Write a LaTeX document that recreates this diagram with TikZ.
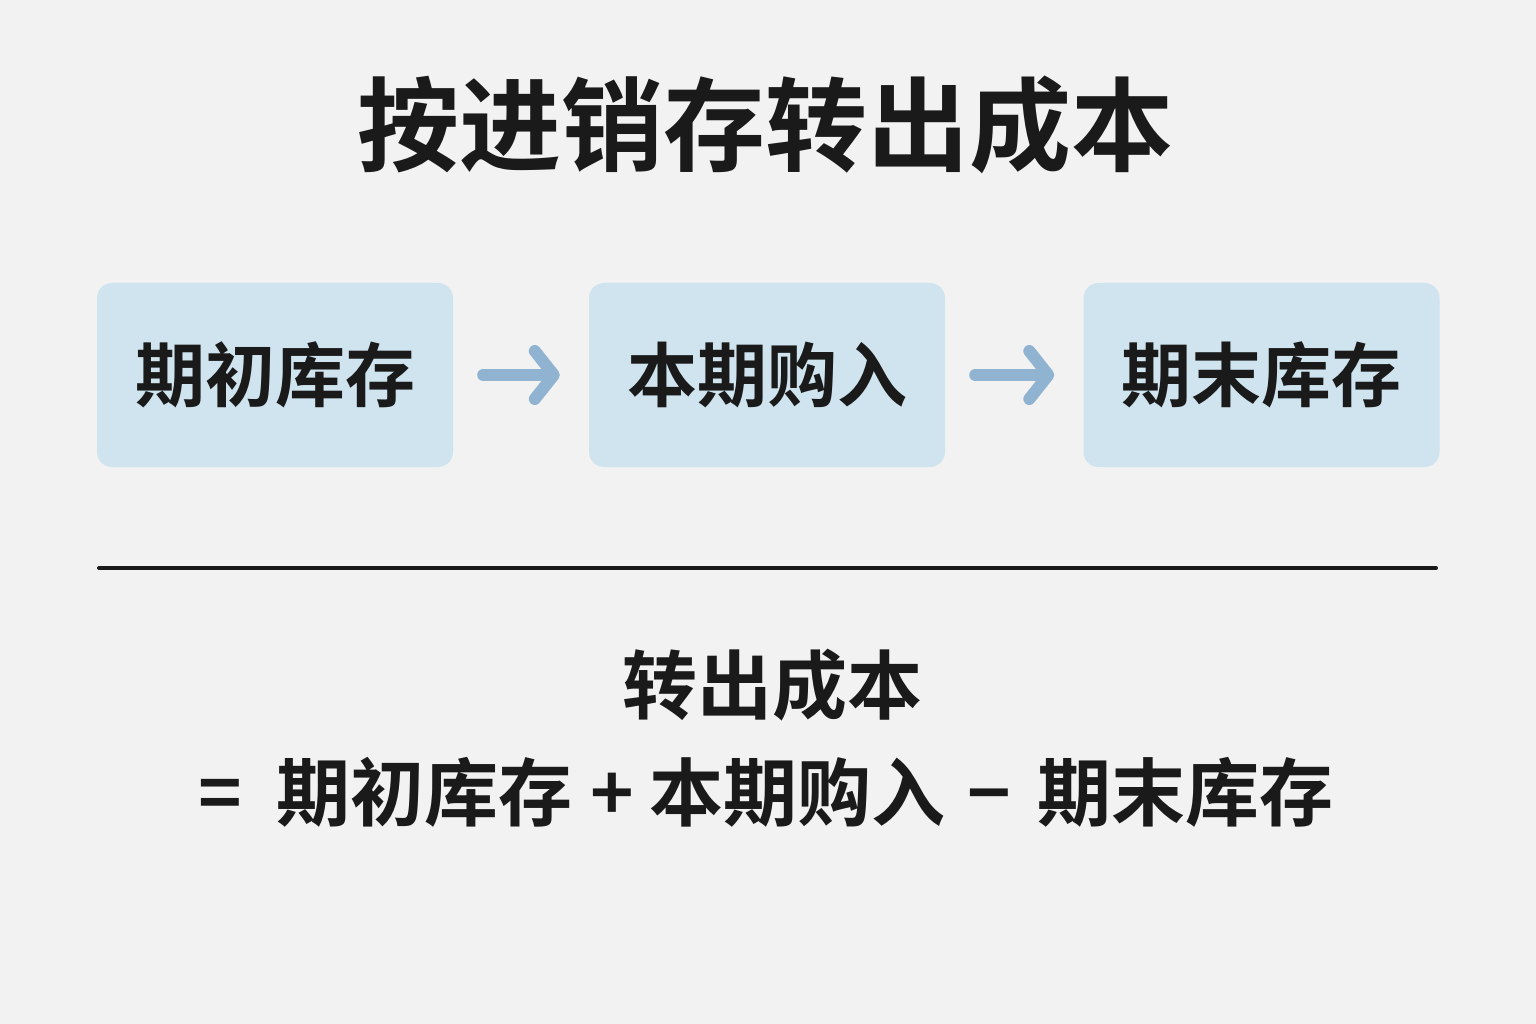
\documentclass[tikz,border=0pt]{standalone}
\usepackage{fontspec}
\setmainfont{Noto Sans CJK SC}[BoldFont={Noto Sans CJK SC Bold}]
\usetikzlibrary{arrows.meta}
\definecolor{bg}{HTML}{F2F2F2}
\definecolor{boxfill}{HTML}{CFE4EF}
\definecolor{arrowc}{HTML}{8FB3D1}
\definecolor{ink}{HTML}{1A1A1A}
\tikzset{
  stepbox/.style={fill=boxfill, rounded corners=15pt, minimum width=356pt, minimum height=184pt,
    inner sep=0pt, font=\fontsize{70}{78}\selectfont\bfseries, text=ink},
  flow/.style={draw=arrowc, line width=12pt, line cap=round, line join=round,
    -{Straight Barb[length=19pt, width=48pt, line cap=round, line join=round]},
    shorten <=30pt, shorten >=29pt},
}
\begin{document}
\begin{tikzpicture}[x=1pt,y=1pt]
\fill[bg] (0,0) rectangle (1536,-1024);
\useasboundingbox (0,0) rectangle (1536,-1024);
\node[font=\fontsize{102}{112}\selectfont\bfseries, text=ink] (title) at (765,-125) {按进销存转出成本};
\node[stepbox] (b1) at (275,-375) {期初库存};
\node[stepbox] (b2) at (767,-375) {本期购入};
\node[stepbox] (b3) at (1261.5,-375) {期末库存};
\draw[flow] (b1) -- (b2);
\draw[flow] (b2) -- (b3);
\coordinate (l1) at (99,-568);
\coordinate (l2) at (1436,-568);
\draw[ink, line width=4pt, line cap=round] (l1) -- (l2);
\node[font=\fontsize{75}{84}\selectfont\bfseries, text=ink] (res) at (772,-685) {转出成本};
\node[font=\fontsize{74}{84}\selectfont\bfseries, text=ink] (formula) at (766,-792)
  {=\hspace{34pt}期初库存\hspace{18pt}+\hspace{16pt}本期购入\hspace{22pt}−\hspace{26pt}期末库存};
\end{tikzpicture}
\end{document}
